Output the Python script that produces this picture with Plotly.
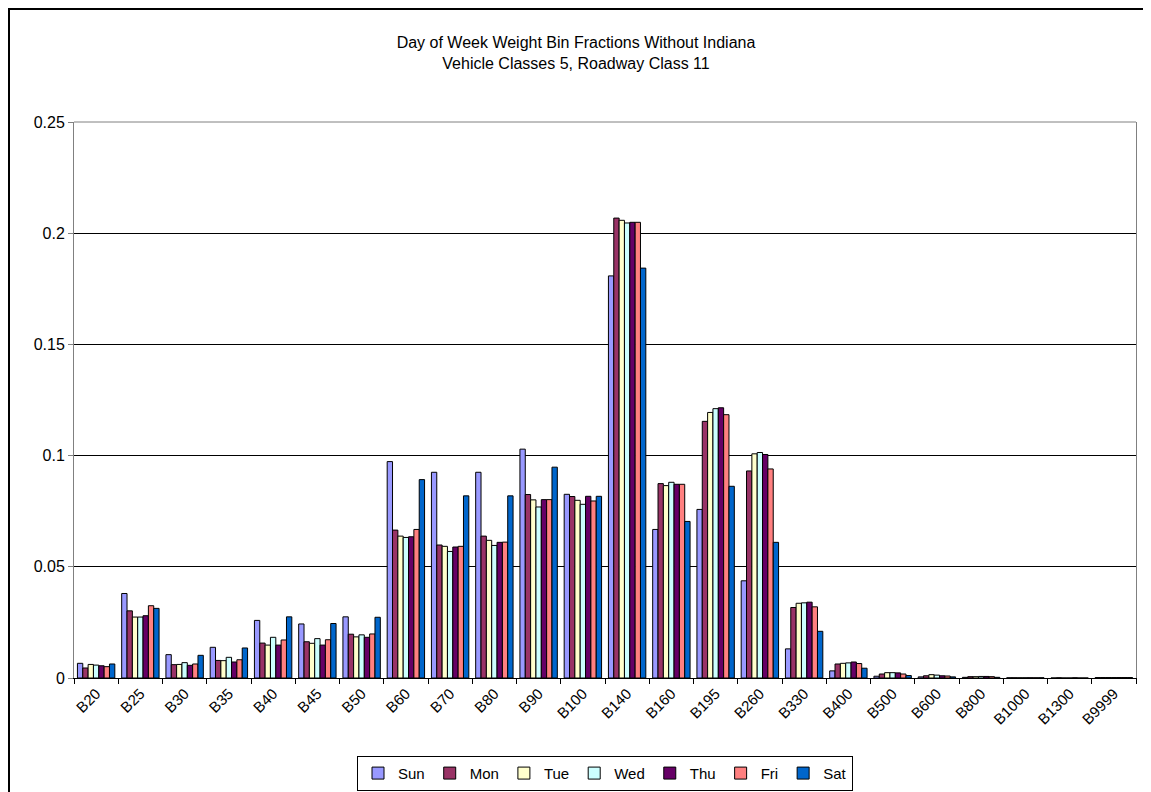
import plotly.graph_objects as go

bins = ['B20', 'B25', 'B30', 'B35', 'B40', 'B45', 'B50', 'B60', 'B70', 'B80', 'B90', 'B100',
        'B140', 'B160', 'B195', 'B260', 'B330', 'B400', 'B500', 'B600', 'B800', 'B1000',
        'B1300', 'B9999']

sun = [0.0066, 0.0380, 0.0105, 0.0138, 0.0259, 0.0243, 0.0275, 0.0973, 0.0925, 0.0925, 0.1029, 0.0826,
       0.1808, 0.0668, 0.0758, 0.0437, 0.0131, 0.0032, 0.0008, 0.0005, 0.0003, 0.0001, 0.0000, 0.0002]
mon = [0.0045, 0.0302, 0.0060, 0.0079, 0.0157, 0.0163, 0.0197, 0.0665, 0.0598, 0.0638, 0.0825, 0.0816,
       0.2068, 0.0874, 0.1154, 0.0931, 0.0317, 0.0063, 0.0018, 0.0010, 0.0006, 0.0001, 0.0001, 0.0002]
tue = [0.0061, 0.0274, 0.0061, 0.0078, 0.0148, 0.0156, 0.0185, 0.0638, 0.0592, 0.0619, 0.0801, 0.0799,
       0.2058, 0.0865, 0.1194, 0.1008, 0.0336, 0.0066, 0.0024, 0.0015, 0.0006, 0.0001, 0.0000, 0.0002]
wed = [0.0058, 0.0274, 0.0069, 0.0093, 0.0183, 0.0177, 0.0194, 0.0632, 0.0569, 0.0596, 0.0769, 0.0781,
       0.2046, 0.0880, 0.1211, 0.1014, 0.0338, 0.0068, 0.0024, 0.0013, 0.0007, 0.0001, 0.0000, 0.0002]
thu = [0.0055, 0.0280, 0.0057, 0.0072, 0.0148, 0.0148, 0.0183, 0.0635, 0.0589, 0.0610, 0.0802, 0.0817,
       0.2049, 0.0871, 0.1215, 0.1005, 0.0341, 0.0072, 0.0023, 0.0010, 0.0007, 0.0001, 0.0001, 0.0002]
fri = [0.0051, 0.0325, 0.0063, 0.0082, 0.0171, 0.0172, 0.0198, 0.0668, 0.0592, 0.0611, 0.0802, 0.0796,
       0.2049, 0.0871, 0.1184, 0.0940, 0.0320, 0.0065, 0.0018, 0.0009, 0.0006, 0.0001, 0.0000, 0.0002]
sat = [0.0063, 0.0313, 0.0102, 0.0135, 0.0275, 0.0245, 0.0273, 0.0892, 0.0819, 0.0819, 0.0948, 0.0817,
       0.1843, 0.0704, 0.0862, 0.0610, 0.0210, 0.0044, 0.0011, 0.0005, 0.0003, 0.0001, 0.0000, 0.0002]

days = ['Sun', 'Mon', 'Tue', 'Wed', 'Thu', 'Fri', 'Sat']
series = [sun, mon, tue, wed, thu, fri, sat]
colors = ['#9999FF', '#993366', '#FFFFCC', '#CCFFFF', '#660066', '#FF8080', '#0066CC']

fig = go.Figure()
for day, vals, col in zip(days, series, colors):
    fig.add_trace(go.Bar(
        x=bins, y=vals, name=day,
        marker=dict(color=col, line=dict(color='black', width=1)),
    ))

font = 'Liberation Sans, Arial, sans-serif'

# plot area in figure pixels (page has an 8px body margin)
L, R, T, B = 66, 23, 114, 122
PW, PH = 1151 - L - R, 792 - T - B

fig.update_layout(
    width=1151, height=792,
    barmode='group',
    bargap=0.155,
    bargroupgap=0,
    plot_bgcolor='white',
    paper_bgcolor='white',
    font=dict(family=font, size=15, color='black'),
    title=dict(
        text='Day of Week Weight Bin Fractions Without Indiana<br>Vehicle Classes 5, Roadway Class 11',
        x=(L + PW / 2 - 29) / 1151, xref='container', xanchor='center',
        y=0.949, yref='container', yanchor='top',
        font=dict(family=font, size=16, color='black'),
    ),
    margin=dict(l=L, r=R, t=T, b=B, autoexpand=False),
    legend=dict(
        orientation='h',
        x=0.5, xanchor='center',
        y=-0.140, yanchor='top',
        bordercolor='black',
        borderwidth=1,
        font=dict(family=font, size=15),
        itemwidth=30,
        traceorder='normal',
    ),
    showlegend=True,
)

fig.update_xaxes(
    type='category',
    automargin=False,
    showline=True, linecolor='black', linewidth=1,
    ticks='outside', tickson='boundaries', ticklen=5, tickcolor='black',
    tickangle=-45,
    tickfont=dict(family=font, size=15),
    showgrid=False,
)
fig.update_yaxes(
    automargin=False,
    range=[0, 0.25],
    tickvals=[0, 0.05, 0.1, 0.15, 0.2, 0.25],
    ticktext=['0', '0.05', '0.1', '0.15', '0.2', '0.25'],
    showline=True, linecolor='#808080', linewidth=1, mirror=True,
    ticks='outside', ticklen=5, tickcolor='#808080',
    showgrid=True, gridcolor='black', gridwidth=1,
    zeroline=False,
    tickfont=dict(family=font, size=16),
)

# top edge of the plot area (gray, like the 0.25 gridline in the original)
fig.add_shape(type='line', xref='paper', yref='paper', x0=0, x1=1, y0=1, y1=1,
              line=dict(color='#808080', width=1), layer='above')

# outer chart border
fig.add_shape(type='rect', xref='paper', yref='paper',
              x0=(1 - L) / PW, x1=(1151 - L + 20) / PW,
              y0=-(B + 20) / PH, y1=1 + (T - 1) / PH,
              line=dict(color='black', width=2), fillcolor='rgba(0,0,0,0)', layer='above')

fig.write_html('out.html')
